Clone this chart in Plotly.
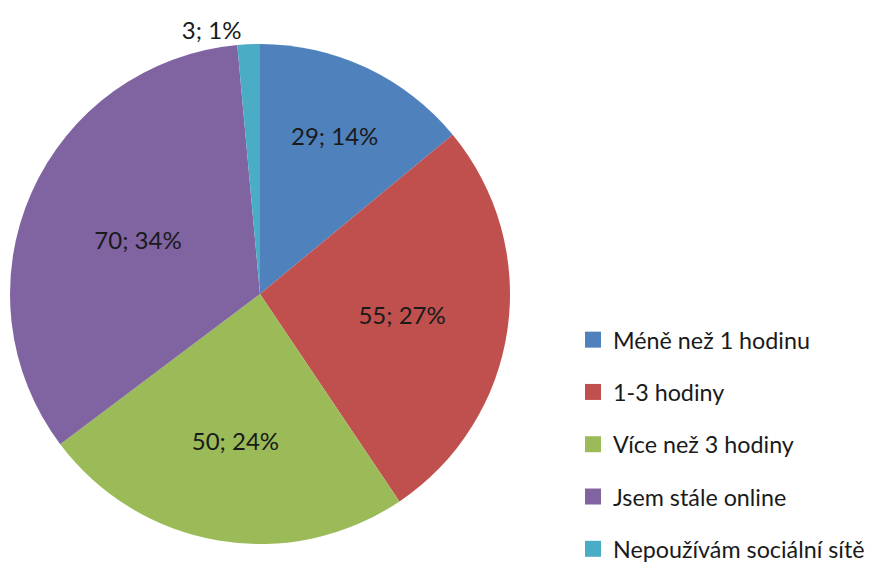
import plotly.graph_objects as go

# ----------------------------------------------------------
# DATA
# ----------------------------------------------------------
labels = [
    "Méně než 1 hodinu",
    "1-3 hodiny",
    "Více než 3 hodiny",
    "Jsem stále online",
    "Nepoužívám sociální sítě",
]
values = [29, 55, 50, 70, 3]
colors = ["#4F81BD", "#C0504D", "#9BBB59", "#8064A2", "#4BACC6"]
text_positions = ["inside", "inside", "inside", "inside", "outside"]

FONT = "Lato, 'Open Sans', sans-serif"
W, H = 878, 563

fig = go.Figure()

fig.add_trace(go.Pie(
    labels=labels,
    values=values,
    sort=False,
    direction="clockwise",
    rotation=0,
    marker=dict(colors=colors, line=dict(width=0)),
    texttemplate="%{value}; %{percent:.0%}",
    textposition=text_positions,
    insidetextorientation="horizontal",
    textfont=dict(family=FONT, size=24, color="#1a1a1a"),
    showlegend=False,
    domain=dict(x=[2 / W, 502 / W], y=[27 / H, 527 / H]),
))

# legend built from invisible traces so the entries can be spaced out
for i, (lab, col) in enumerate(zip(labels, colors)):
    fig.add_trace(go.Scatter(
        x=[None], y=[None],
        mode="markers",
        name=lab,
        legendgroup=f"g{i}",
        marker=dict(symbol="square", size=17, color=col),
    ))

fig.update_layout(
    width=W,
    height=H,
    margin=dict(l=0, r=0, t=0, b=0, autoexpand=False),
    paper_bgcolor="white",
    plot_bgcolor="white",
    xaxis=dict(visible=False),
    yaxis=dict(visible=False),
    legend=dict(
        x=565 / W, y=1 - 310 / H,
        xanchor="left", yanchor="top",
        font=dict(family=FONT, size=23.3, color="#1a1a1a"),
        tracegroupgap=19,
        itemwidth=30,
        bgcolor="rgba(0,0,0,0)",
    ),
)

fig.write_html("out.html")
